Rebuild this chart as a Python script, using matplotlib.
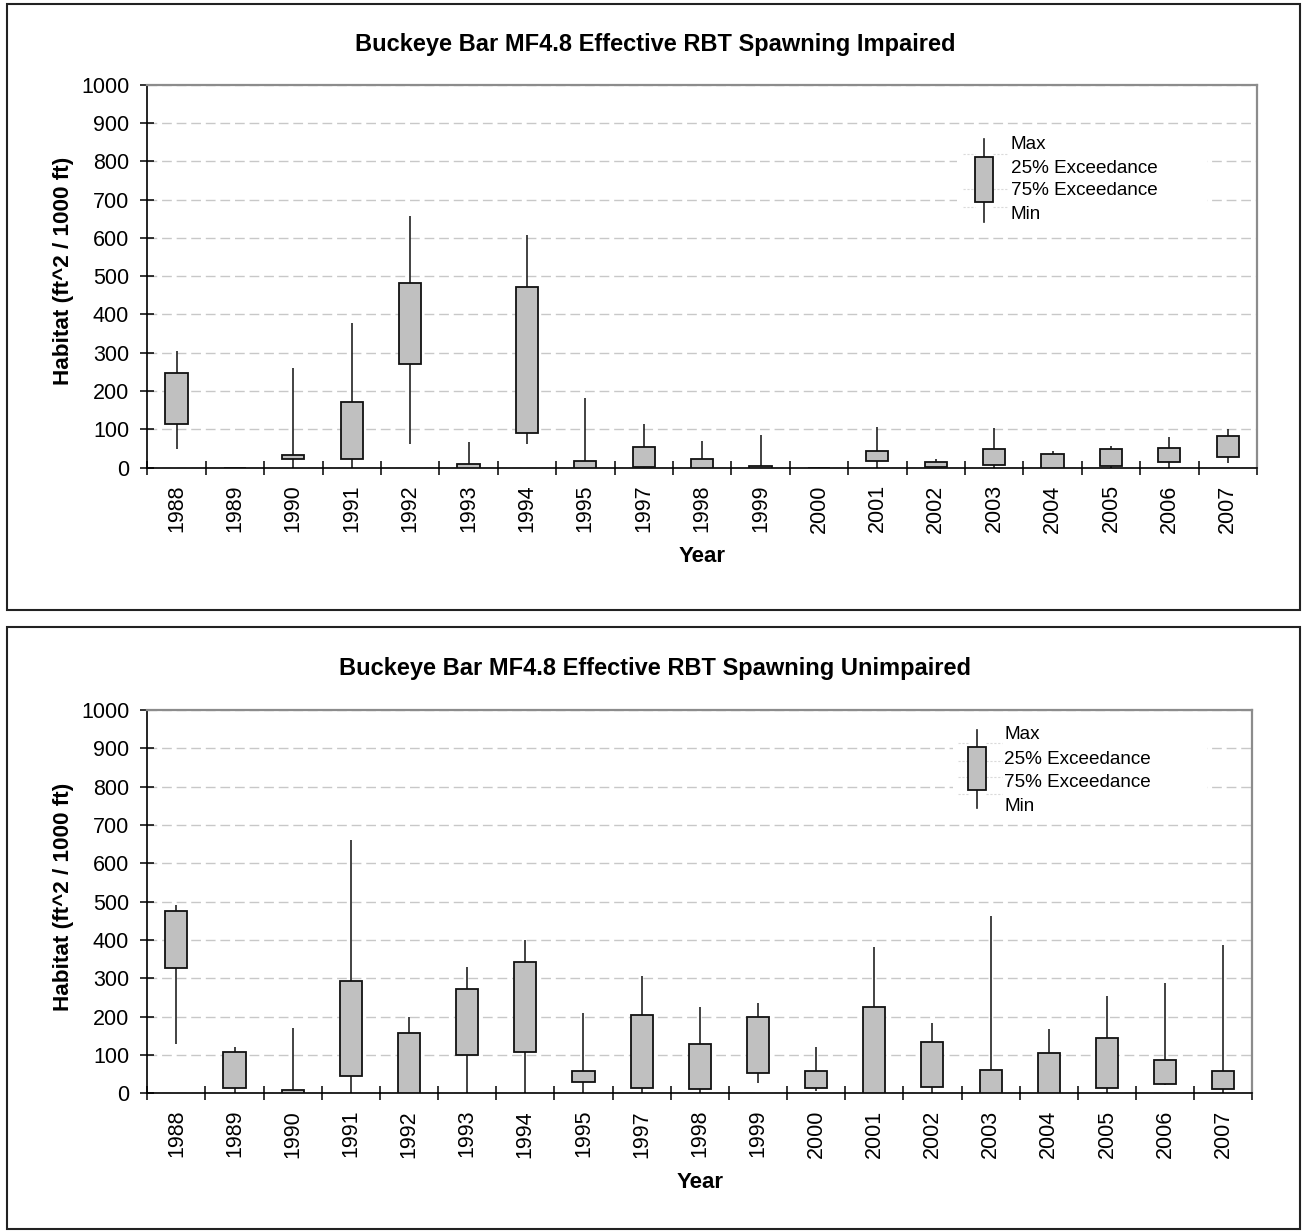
import numpy as np
import matplotlib
matplotlib.use("Agg")
import matplotlib.pyplot as plt
from matplotlib.patches import Rectangle
from matplotlib.lines import Line2D

plt.rcParams['font.family'] = ['Liberation Sans', 'DejaVu Sans']

years = ['1988', '1989', '1990', '1991', '1992', '1993', '1994', '1995', '1997', '1998',
         '1999', '2000', '2001', '2002', '2003', '2004', '2005', '2006', '2007']

# Impaired
imp_max = [305, 0, 261, 377, 657, 66, 607, 181, 114, 71, 85, 1, 105, 24, 103, 44, 57, 79, 101]
imp_q25 = [246, 0, 34, 172, 482, 10, 473, 17, 55, 23, 4, 0, 44, 16, 50, 37, 48, 52, 84]
imp_q75 = [113, 0, 22, 22, 272, 0, 90, 0, 3, 0, 0, 0, 17, 3, 7, 0, 4, 15, 28]
imp_min = [50, 0, 0, 0, 61, 0, 61, 0, 0, 0, 0, 0, 0, 0, 0, 0, 0, 0, 11]

# Unimpaired
unimp_max = [491, 120, 170, 660, 198, 330, 400, 209, 305, 225, 235, 120, 381, 183, 463, 168, 254, 288, 387]
unimp_q25 = [475, 109, 8, 293, 158, 271, 343, 57, 205, 129, 200, 57, 224, 134, 61, 104, 143, 86, 59]
unimp_q75 = [326, 13, 2, 44, 0, 99, 109, 29, 15, 11, 53, 14, 0, 17, 2, 0, 13, 24, 11]
unimp_min = [129, 0, 0, 0, 0, 0, 0, 0, 0, 0, 26, 7, 0, 0, 0, 0, 0, 22, 0]

titles = ['Buckeye Bar MF4.8 Effective RBT Spawning Impaired',
          'Buckeye Bar MF4.8 Effective RBT Spawning Unimpaired']
legend_labels = ['Max', '25% Exceedance', '75% Exceedance', 'Min']

W, H = 1302, 1231
fig = plt.figure(figsize=(W / 100, H / 100), dpi=100)
fig.patch.set_facecolor('white')

def px_axes(l, t, r, b):
    return fig.add_axes([l / W, 1 - b / H, (r - l) / W, (b - t) / H])

def draw_panel(ax, vmax, q25, q75, vmin, leg):
    x = np.arange(len(years))
    ax.set_xlim(-0.5, len(years) - 0.5)
    ax.set_ylim(0, 1000)
    ax.set_axisbelow(True)
    ax.yaxis.grid(True, linestyle=(0, (7, 3.5)), color='#C8C8C8', lw=1.0)
    ax.xaxis.grid(False)
    ax.vlines(x, vmin, vmax, color='#222222', lw=1.2, zorder=2)
    ax.bar(x, np.array(q25) - np.array(q75), bottom=q75, width=0.38,
           color='#C0C0C0', edgecolor='#111111', lw=1.3, zorder=3)
    ax.set_yticks(np.arange(0, 1001, 100))
    ax.tick_params(axis='y', which='major', direction='inout', length=10, width=1.1,
                   pad=8, labelsize=15.5, color='black')
    ax.set_xticks(np.arange(-0.5, len(years), 1))
    ax.set_xticklabels([])
    ax.set_xticks(x, minor=True)
    ax.set_xticklabels(years, minor=True, rotation=90, fontsize=15.5)
    ax.tick_params(axis='x', which='major', direction='inout', length=10, width=1.1, color='black')
    ax.tick_params(axis='x', which='minor', length=0, pad=12)
    for s in ['left', 'bottom']:
        ax.spines[s].set_color('black')
        ax.spines[s].set_linewidth(1.2)
    for s in ['top', 'right']:
        ax.spines[s].set_color('#8C8C8C')
        ax.spines[s].set_linewidth(1.6)
    # legend (axes fraction)
    (bg_l, bg_r, bg_b, bg_t, bl, br, wt, bt, bb, wb, tx, ty, seps) = leg
    ax.add_patch(Rectangle((bg_l, bg_b), bg_r - bg_l, bg_t - bg_b, transform=ax.transAxes,
                           facecolor='white', edgecolor='none', zorder=1))
    for sy in seps:
        ax.add_line(Line2D([bg_l + 0.005, bl], [sy, sy], transform=ax.transAxes,
                           color='#DADADA', lw=0.8, ls=(0, (2, 1.5)), zorder=1.5))
        ax.add_line(Line2D([br, tx - 0.002], [sy, sy], transform=ax.transAxes,
                           color='#DADADA', lw=0.8, ls=(0, (2, 1.5)), zorder=1.5))
    cx = (bl + br) / 2
    ax.add_line(Line2D([cx, cx], [wb, wt], transform=ax.transAxes, color='#222222', lw=1.2, zorder=2))
    ax.add_patch(Rectangle((bl, bb), br - bl, bt - bb, transform=ax.transAxes,
                           facecolor='#C0C0C0', edgecolor='#111111', lw=1.3, zorder=3))
    for lab, yy in zip(legend_labels, ty):
        ax.text(tx, yy, lab, transform=ax.transAxes, fontsize=13.6, va='center', ha='left', zorder=4)

ax1 = px_axes(147.3, 84.7, 1257, 467.7)
draw_panel(ax1, imp_max, imp_q25, imp_q75, imp_min,
           (0.7297, 0.955, 0.63, 0.89, 0.7456, 0.7621, 0.8574, 0.8104, 0.693, 0.6423,
            0.778, [0.8426, 0.7817, 0.7232, 0.66], [0.818, 0.727, 0.681]))

ax2 = px_axes(147.3, 710, 1252.3, 1093.3)
draw_panel(ax2, unimp_max, unimp_q25, unimp_q75, unimp_min,
           (0.729, 0.959, 0.725, 0.975, 0.743, 0.759, 0.948, 0.9027, 0.7913, 0.7435,
            0.7753, [0.935, 0.871, 0.811, 0.7495], [0.913, 0.866, 0.824, 0.781]))

# Titles and axis labels
fig.text(655 / W, 1 - 45 / H, titles[0], ha='center', va='center', fontsize=17, fontweight='bold')
fig.text(655 / W, 1 - 668 / H, titles[1], ha='center', va='center', fontsize=17, fontweight='bold')
for yc in (271, 897):
    fig.text(63 / W, 1 - yc / H, 'Habitat (ft^2 / 1000 ft)', ha='center', va='center',
             rotation=90, fontsize=16.2, fontweight='bold')
fig.text(702 / W, 1 - 557 / H, 'Year', ha='center', va='center', fontsize=16, fontweight='bold')
fig.text(700 / W, 1 - 1183 / H, 'Year', ha='center', va='center', fontsize=16, fontweight='bold')

# Outer frames
for (l, t, r, b) in [(7, 4, 1300, 610), (7, 627, 1300, 1229)]:
    fig.patches.append(Rectangle((l / W, 1 - b / H), (r - l) / W, (b - t) / H,
                                 transform=fig.transFigure, fill=False,
                                 edgecolor='#222222', lw=1.5))

fig.savefig('out.png', dpi=100, facecolor='white')
